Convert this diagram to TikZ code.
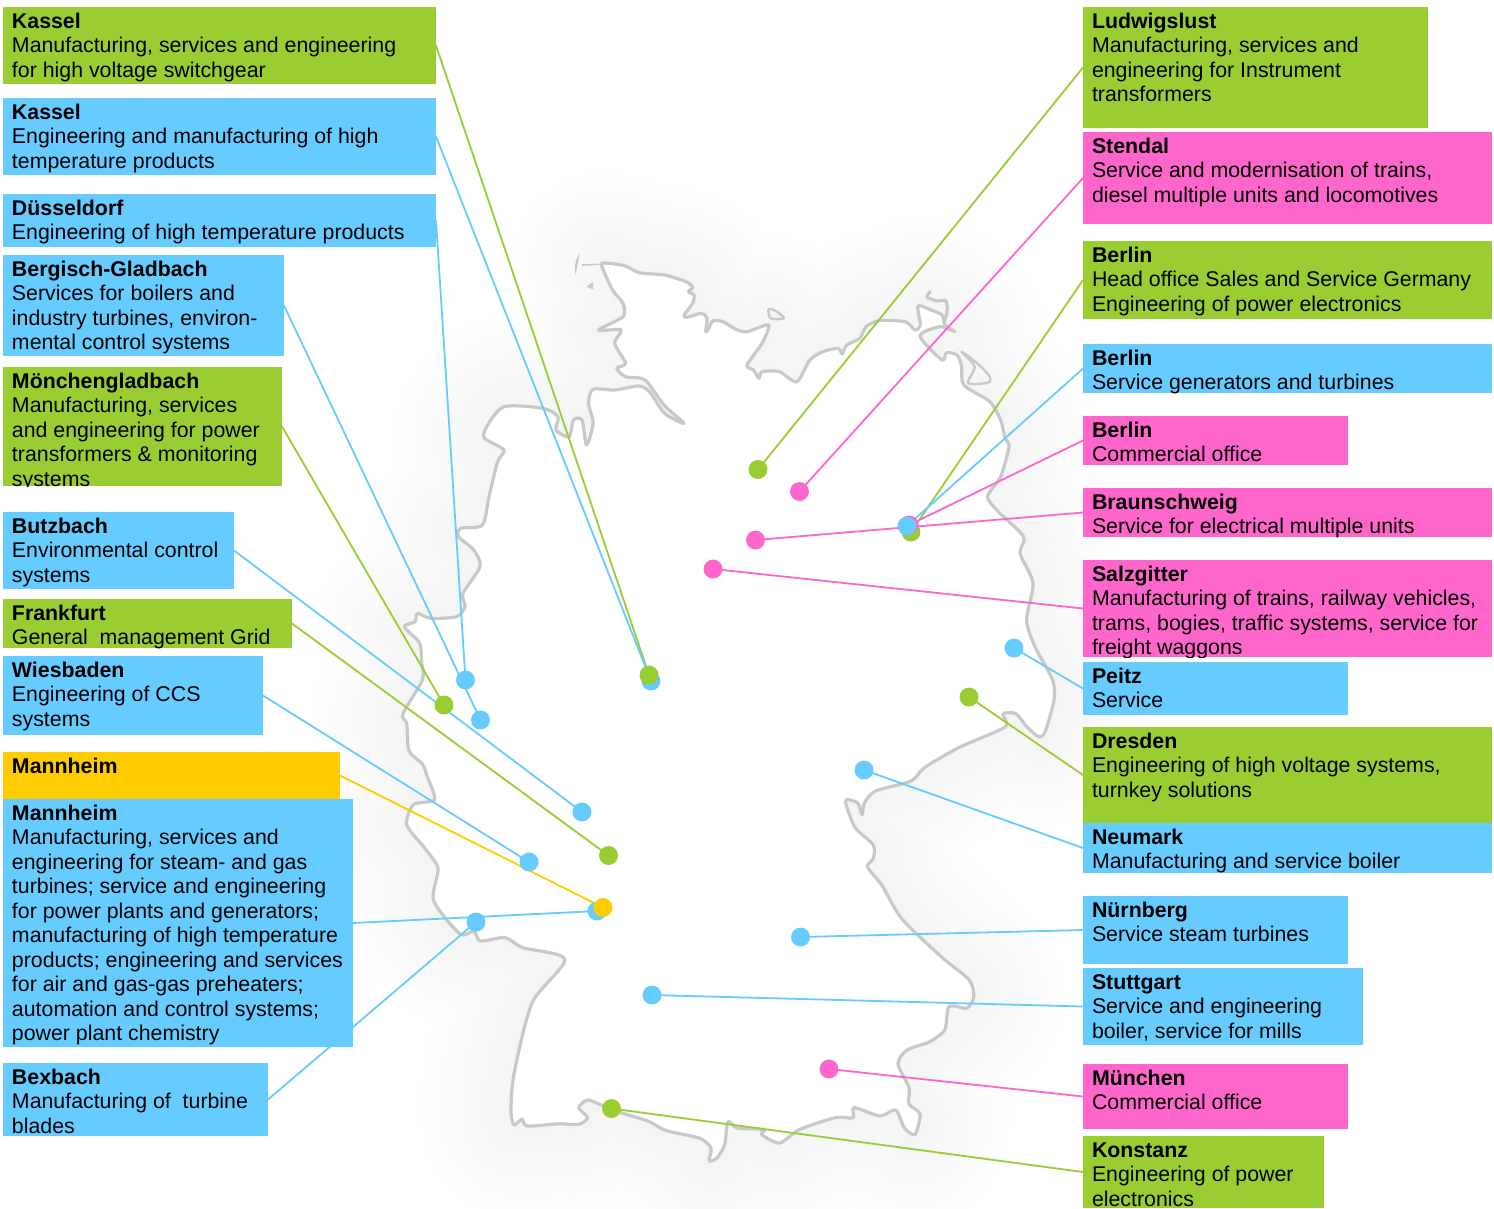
\documentclass[tikz,border=0pt]{standalone}
\usepackage{fontspec}
\setmainfont{Liberation Sans}
\usetikzlibrary{backgrounds}
\definecolor{cg}{HTML}{9ACD32}
\definecolor{cb}{HTML}{66CCFF}
\definecolor{cp}{HTML}{FF66CC}
\definecolor{cy}{HTML}{FFCC00}
\definecolor{coast}{HTML}{C8C8C8}
\tikzset{
  boxbase/.style={anchor=north west,inner sep=0pt,outer sep=0pt,draw=none,fill=#1},
  boxtext/.style={anchor=north west,inner sep=0pt,outer sep=0pt,align=left,text=black,font=\fontsize{16}{18.4}\selectfont},
  pin/.style={circle,fill=#1,draw=none,inner sep=0pt,minimum size=14.2pt},
  link/.style={draw=#1,line width=1.35pt},
  coastline/.style={draw=coast,line width=2.4pt,line join=round,line cap=round},
}
\newcommand{\bx}[7]{%
  \node[boxbase=#2,minimum width={(#5-#3)*0.75pt},minimum height={(#6-#4)*0.75pt}] (#1) at (#3,#4) {};
  \begin{scope}
    \clip (#1.north west) rectangle (#1.south east);
    \node[boxtext] (#1t) at (#3+9,#4) {\rule{0pt}{15.8pt}#7};
  \end{scope}
}
\newcommand{\ttl}[1]{\textbf{#1}}
\def\germany{
(601.6,265)(608,263.3)(625.5,266)(639.4,272.7)(664.5,275)(686,281.7)(692.7,287.3)(688.4,291.7)(694,295)(692.7,303.3)(684,315)(687,317.3)(701.4,313.3)(707,318.3)(705.7,331.7)(708.8,328.3)(713,320.7)(723,321.7)(736,329.3)(747,331.7)(768.6,325)(762,343.3)(747,365)(753.4,370)(759,378.3)(762,371.7)(779.4,371.7)(796.8,381.7)(809.8,360)(822.8,351.7)(838,348.3)(842.3,354)(846.7,345)(859.7,338.3)(866,326.7)(879,320.7)(905,321.7)(915,330)(920.4,325)(918,306)(931,310)(942,315)(945,325)(955,331.7)(940,326.7)(920,336)(942,360)(946.4,352.7)(957,355)(961.6,366.7)(963.8,385)(989.8,401.7)(1000.6,420)(1005,438.3)(1009,446.7)(1000.6,476.7)(987.6,496.7)(998.4,511.7)(1023.6,536.7)(1020,553.3)(1033,583.3)(1026.6,620)(1035,646.7)(1052.6,680)(1054,700)(1045,732)(1038.5,736.6)(1027,727)(1016,713.7)(1003,714)(1005,727)(960,747)(924.6,767.5)(911,781)(875.5,791)(864.4,803)(862,814.7)(857.7,803)(846.5,799.5)(846.5,806)(855.4,828)(873.3,845)(873.3,858.5)(867.5,867)(882,885.4)(902,919)(942.5,957.8)(969,979.7)(973.8,996.5)(967,1008)(949,1006.6)(944.7,1030)(929,1042)(907,1050)(898,1064)(909,1087.4)(909,1104)(920,1114)(915,1134.5)(904.5,1128)(895.6,1110)(880,1116)(854,1107.6)(853,1117.7)(835,1117.7)(799.6,1129.5)(779.5,1143)(761.7,1134.5)(764,1129.5)(737,1128)(728,1121.8)(724.6,1144.6)(717,1158)(709,1160.8)(711,1148)(699,1138)(665.7,1130.5)(648,1121)(621,1112.7)(598.8,1104)(587.6,1100)(578.7,1107.6)(587.6,1117.7)(578.7,1124.4)(558.6,1123.8)(527,1126)(522,1119)(514,1125)(511,1111)(514,1074)(532,1003)(565,959.5)(523,947.7)(505,937.6)(480.4,941)(473.8,931)(460,934)(433.6,900.5)(438,868.5)(424.6,848)(406.8,824.8)(413.5,804.6)(434.5,799.5)(427,776)(422.4,764)(409,750.7)(406.8,723.8)(403,713.7)(422.4,680)(421.7,663)(419.5,643)(404.3,626.7)(415,621.7)(417.3,613.3)(430.4,618.3)(456.4,616.7)(465,606.7)(463,593.3)(480,566.7)(473.7,550)(458.5,536.7)(460.7,528.3)(482.4,525)(489,496.7)(497.6,461.7)(504,450)(484.6,438.3)(486.7,426.7)(504,406.7)(543,408.3)(558,416.7)(556,430)(569,436.7)(573.5,420)(582,420)(586.5,445)(593,423.3)(588.6,403.3)(593,389.3)(614.7,390)(638.5,386)(649.4,391.7)(664.5,413.3)(684,423.3)(664,405)(645,380)(625.5,376.7)(616.8,368.3)(625.5,363.3)(614.7,343.3)(621,330)(598.6,330)(623,316.7)(623,303.3)(612.5,290)
}
\begin{document}
\begin{tikzpicture}[x=0.75pt,y=-0.75pt]
\useasboundingbox (0,0) rectangle (1494,1208);

% map with its soft shadow
\begin{scope}[on background layer]
  \foreach \w in {18,36,...,180}{
    \draw[black,opacity=0.005,line width=\w*0.75pt,line join=round] plot[smooth cycle,tension=0.45] coordinates {\germany};
  }
  \draw[coastline,fill=white] plot[smooth cycle,tension=0.45] coordinates {\germany};
  \fill[coast] (580,253) .. controls (575,260) and (574,268) .. (575.6,275) .. controls (577,268) and (578,260) .. (580,253) -- cycle;
  \fill[coast] (586.5,286.7) -- (593,281.7) -- (593,289.3) -- cycle;
  \draw[coast,line width=1.2pt] (582,265) -- (599.5,264.3);
  \draw[coastline,line width=1.8pt] plot[smooth cycle,tension=0.5] coordinates {(768.6,309.3)(776,311)(783.8,318.3)(770.8,318.3)};
  \draw[coastline,line width=1.8pt] plot[smooth cycle,tension=0.5] coordinates {(961.6,351.7)(978,364)(989.8,376.7)(987.6,382.7)(968,383)(974.6,366.7)};
  \draw[coastline] plot[smooth,tension=0.5] coordinates {(930,291.7)(927,297)(937,301)(946,301)(947,312)(944,322)};
\end{scope}

% label boxes
\bx{lKa}{cg}{3}{7}{436}{84}{\ttl{Kassel}\\Manufacturing, services and engineering\\for high voltage switchgear}
\bx{lKb}{cb}{3}{98}{436}{175}{\ttl{Kassel}\\Engineering and manufacturing of high\\temperature products}
\bx{lDu}{cb}{3}{194}{436}{247}{\ttl{Düsseldorf}\\Engineering of high temperature products}
\bx{lBg}{cb}{3}{255}{284}{356}{\ttl{Bergisch-Gladbach}\\Services for boilers and\\industry turbines, environ-\\mental control systems}
\bx{lMg}{cg}{3}{367}{282}{486}{\ttl{Mönchengladbach}\\Manufacturing, services\\and engineering for power\\transformers \& monitoring\\systems}
\bx{lBu}{cb}{3}{512}{234}{589}{\ttl{Butzbach}\\Environmental control\\systems}
\bx{lFr}{cg}{3}{599}{292}{648}{\ttl{Frankfurt}\\General~ management Grid}
\bx{lWi}{cb}{3}{656}{263}{735}{\ttl{Wiesbaden}\\Engineering of CCS\\systems}
\bx{lMy}{cy}{3}{752}{340}{799}{\ttl{Mannheim}}
\bx{lMb}{cb}{3}{799}{353}{1047}{\ttl{Mannheim}\\Manufacturing, services and\\engineering for steam- and gas\\turbines; service and engineering\\for power plants and generators;\\manufacturing of high temperature\\products; engineering and services\\for air and gas-gas preheaters;\\automation and control systems;\\power plant chemistry}
\bx{lBe}{cb}{3}{1063}{268}{1136}{\ttl{Bexbach}\\Manufacturing of~ turbine\\blades}

\bx{rLu}{cg}{1083}{7}{1428}{128}{\ttl{Ludwigslust}\\Manufacturing, services and\\engineering for Instrument\\transformers}
\bx{rSt}{cp}{1083}{132}{1492}{224}{\ttl{Stendal}\\Service and modernisation of trains,\\diesel multiple units and locomotives}
\bx{rBg}{cg}{1083}{241}{1492}{319}{\ttl{Berlin}\\Head office Sales and Service Germany\\Engineering of power electronics}
\bx{rBb}{cb}{1083}{344}{1492}{393}{\ttl{Berlin}\\Service generators and turbines}
\bx{rBp}{cp}{1083}{416}{1348}{465}{\ttl{Berlin}\\Commercial office}
\bx{rBr}{cp}{1083}{488}{1492}{537}{\ttl{Braunschweig}\\Service for electrical multiple units}
\bx{rSa}{cp}{1083}{560}{1492}{657}{\ttl{Salzgitter}\\Manufacturing of trains, railway vehicles,\\trams, bogies, traffic systems, service for\\freight waggons}
\bx{rPe}{cb}{1083}{662}{1348}{715}{\ttl{Peitz}\\Service}
\bx{rDr}{cg}{1083}{727}{1492}{823}{\ttl{Dresden}\\Engineering of high voltage systems,\\turnkey solutions}
\bx{rNe}{cb}{1083}{823}{1492}{873}{\ttl{Neumark}\\Manufacturing and service boiler}
\bx{rNu}{cb}{1083}{896}{1348}{964}{\ttl{Nürnberg}\\Service steam turbines}
\bx{rSg}{cb}{1083}{968}{1363}{1045}{\ttl{Stuttgart}\\Service and engineering\\boiler, service for mills}
\bx{rMu}{cp}{1083}{1064}{1348}{1129}{\ttl{München}\\Commercial office}
\bx{rKo}{cg}{1083}{1136}{1324}{1208}{\ttl{Konstanz}\\Engineering of power\\electronics}

% location pins (later ones lie on top)
\node[pin=cb] (dKb) at (651,681) {};
\node[pin=cg] (dKa) at (649,675) {};
\node[pin=cb] (dDu) at (465.5,680) {};
\node[pin=cb] (dBg) at (480.5,720) {};
\node[pin=cg] (dMg) at (444,705) {};
\node[pin=cb] (dBu) at (582,812) {};
\node[pin=cg] (dFr) at (608.5,855.5) {};
\node[pin=cb] (dWi) at (529,862) {};
\node[pin=cb] (dMb) at (597,911) {};
\node[pin=cy] (dMy) at (603,907.5) {};
\node[pin=cb] (dBe) at (476,922) {};
\node[pin=cg] (dLu) at (758,469.5) {};
\node[pin=cp] (dSt) at (799.5,491.5) {};
\node[pin=cg] (dBgr) at (911,532) {};
\node[pin=cp] (dBp) at (909,525) {};
\node[pin=cb] (dBb) at (907,526) {};
\node[pin=cp] (dBr) at (755.5,540) {};
\node[pin=cp] (dSa) at (713,569) {};
\node[pin=cb] (dPe) at (1014,648) {};
\node[pin=cg] (dDr) at (969,697) {};
\node[pin=cb] (dNe) at (864,770) {};
\node[pin=cb] (dNu) at (800.5,937) {};
\node[pin=cb] (dSg) at (652,995) {};
\node[pin=cp] (dMu) at (829,1069) {};
\node[pin=cg] (dKo) at (611.5,1108.5) {};

% connectors, below boxes and pins
\begin{scope}[on background layer]
  \draw[link=cg] (lKa.east) -- (dKa.center);
  \draw[link=cb] (lKb.east) -- (dKb.center);
  \draw[link=cb] (lDu.east) -- (dDu.center);
  \draw[link=cb] (lBg.east) -- (dBg.center);
  \draw[link=cg] (lMg.east) -- (dMg.center);
  \draw[link=cb] (lBu.east) -- (dBu.center);
  \draw[link=cg] (lFr.east) -- (dFr.center);
  \draw[link=cb] (lWi.east) -- (dWi.center);
  \draw[link=cy] (lMy.east) -- (dMy.center);
  \draw[link=cb] (lMb.east) -- (dMb.center);
  \draw[link=cb] (lBe.east) -- (dBe.center);
  \draw[link=cg] (rLu.west) -- (dLu.center);
  \draw[link=cp] (rSt.west) -- (dSt.center);
  \draw[link=cg] (rBg.west) -- (dBgr.center);
  \draw[link=cb] (rBb.west) -- (dBb.center);
  \draw[link=cp] (rBp.west) -- (dBp.center);
  \draw[link=cp] (rBr.west) -- (dBr.center);
  \draw[link=cp] (rSa.west) -- (dSa.center);
  \draw[link=cb] (rPe.west) -- (dPe.center);
  \draw[link=cg] (rDr.west) -- (dDr.center);
  \draw[link=cb] (rNe.west) -- (dNe.center);
  \draw[link=cb] (rNu.west) -- (dNu.center);
  \draw[link=cb] (rSg.west) -- (dSg.center);
  \draw[link=cp] (rMu.west) -- (dMu.center);
  \draw[link=cg] (rKo.west) -- (dKo.center);
\end{scope}
\end{tikzpicture}
\end{document}
